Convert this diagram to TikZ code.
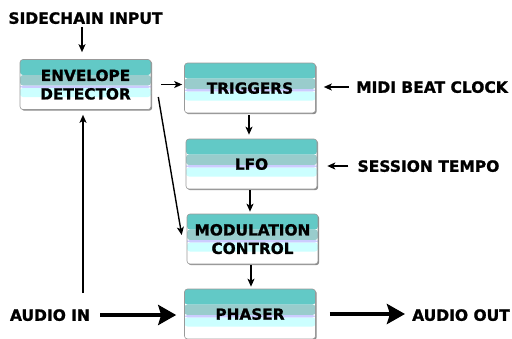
\documentclass[tikz,border=0pt]{standalone}
\usepackage{fontspec}
\setmainfont{DejaVu Sans}
\newfontfamily\heavyfont{DejaVu Sans Bold}[FakeBold=1.2]
\usetikzlibrary{arrows.meta,calc,shadows}
\definecolor{tealtop}{HTML}{62C9C6}
\definecolor{tealmid}{HTML}{99CCCC}
\definecolor{lav}{HTML}{CCCCFF}
\definecolor{cyanl}{HTML}{CCFFFF}
\newcommand{\lblfont}{\heavyfont\fontsize{15.5}{18}\selectfont}
\newcommand{\boxfont}{\heavyfont\fontsize{15.3}{18.5}\selectfont}
\tikzset{
  blk/.style={rounded corners=3pt, draw=black!40, line width=0.6pt,
    minimum width=131pt, minimum height=50pt, inner sep=0pt, align=center,
    font=\boxfont, text depth=0pt,
    drop shadow={shadow xshift=1.2pt, shadow yshift=-1.2pt, opacity=0.45, fill=black},
    path picture={
      \coordinate (nw) at (path picture bounding box.north west);
      \coordinate (ne) at (path picture bounding box.north east);
      \coordinate (se) at (path picture bounding box.south east);
      \fill[white] (nw) rectangle (se);
      \fill[tealtop] (nw) rectangle ($(ne)!0.31!(se)$);
      \fill[tealmid] ($(nw)!0.31!($(nw)-(ne)+(se)$)$) rectangle ($(ne)!0.52!(se)$);
      \fill[lav] ($(nw)!0.52!($(nw)-(ne)+(se)$)$) rectangle ($(ne)!0.57!(se)$);
      \fill[cyanl] ($(nw)!0.57!($(nw)-(ne)+(se)$)$) rectangle ($(ne)!0.75!(se)$);
    }},
  lbl/.style={font=\lblfont, inner sep=0pt, text depth=0pt},
  arr/.style={-{Stealth[length=8pt,width=7pt,inset=2pt]}, line width=1.4pt},
  bigarr/.style={-{Stealth[length=18pt,width=20pt,inset=3pt]}, line width=4.5pt},
}
\begin{document}
\begin{tikzpicture}[x=1pt,y=-1pt]
\useasboundingbox (0,0) rectangle (512,338);
\node[lbl] (side) at (85.5,18) {SIDECHAIN INPUT};
\node[blk] (env) at (85.5,84.5) {ENVELOPE\\DETECTOR};
\node[blk] (trig) at (250,88) {TRIGGERS};
\node[blk] (lfo) at (251.5,164) {LFO};
\node[blk] (mod) at (252.5,239) {MODULATION\\CONTROL};
\node[blk] (ph) at (250,314) {PHASER};
\node[lbl] (midi) at (432,87) {MIDI BEAT CLOCK};
\node[lbl] (sess) at (428.5,166) {SESSION TEMPO};
\node[lbl] (ain) at (50,315) {AUDIO IN};
\node[lbl] (aout) at (461,315) {AUDIO OUT};

\draw[arr, shorten <=3pt, shorten >=7pt] ([xshift=-3.5pt]side.south) -- ([xshift=-3.5pt]side.south |- env.north);
\draw[arr, shorten <=10pt, shorten >=2pt] (env.east) -- (env.east -| trig.west);
\draw[arr, shorten <=2pt, shorten >=4pt] ([xshift=-1pt]trig.south) -- ([xshift=-1pt]trig.south |- lfo.north);
\draw[arr, shorten <=7pt, shorten >=8pt] (midi.west) -- (midi.west -| trig.east);
\draw[arr, shorten <=9pt, shorten >=10pt] (sess.west) -- (sess.west -| lfo.east);
\draw[arr, shorten <=1pt, shorten >=2pt] ([xshift=-1.5pt]lfo.south) -- ([xshift=-1.5pt]lfo.south |- mod.north);
\draw[arr, shorten <=1pt, shorten >=2pt] ([xshift=-1.5pt]mod.south) -- ([xshift=-1.5pt]mod.south |- ph.north);
\draw[arr, shorten <=16pt, shorten >=5pt] ([xshift=33pt]ain.north) -- ([xshift=33pt]ain.north |- env.south);
\draw[arr] ([xshift=7pt,yshift=-12.5pt]env.east) -- ([xshift=-5pt,yshift=4pt]mod.west);
\draw[bigarr, shorten <=10pt, shorten >=8pt] (ain.east) -- (ain.east -| ph.west);
\draw[bigarr, shorten <=14pt, shorten >=7pt] (ph.east) -- (ph.east -| aout.west);
\end{tikzpicture}
\end{document}
